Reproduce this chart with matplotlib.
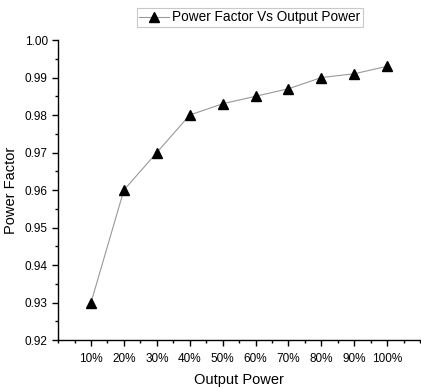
import matplotlib
matplotlib.use("Agg")
import matplotlib.pyplot as plt
from matplotlib.ticker import MultipleLocator, FixedLocator

plt.rcParams['font.family'] = ['Liberation Sans', 'DejaVu Sans']
tick_fs, label_fs, leg_fs = 8.5, 10.5, 9.8

categories = ['10%', '20%', '30%', '40%', '50%', '60%', '70%', '80%', '90%', '100%']
power_factor = [0.930, 0.960, 0.970, 0.980, 0.983, 0.985, 0.987, 0.990, 0.991, 0.993]
y_ticks = [0.92, 0.93, 0.94, 0.95, 0.96, 0.97, 0.98, 0.99, 1.00]

fig = plt.figure(figsize=(4.21, 3.87), dpi=100)
ax = fig.add_axes([0.138, 0.1214, 0.860, 0.7752])

x = list(range(1, len(categories) + 1))
ax.plot(x, power_factor, color='#999999', lw=0.8, marker='^', ms=6.5,
        mfc='black', mec='black', label='Power Factor Vs Output Power')

ax.set_xlim(0, 11)
ax.set_ylim(0.92, 1.00)
ax.set_xticks(x)
ax.set_xticklabels(categories)
ax.xaxis.set_minor_locator(FixedLocator([i * 0.5 for i in range(0, 23)]))
ax.set_yticks(y_ticks)
ax.set_yticklabels([f'{v:.2f}' for v in y_ticks])
ax.yaxis.set_minor_locator(MultipleLocator(0.005))

for s in ['top', 'right']:
    ax.spines[s].set_visible(False)
for s in ['left', 'bottom']:
    ax.spines[s].set_linewidth(1.0)

ax.tick_params(axis='both', which='major', direction='out', length=4, width=1, labelsize=tick_fs)
ax.tick_params(axis='both', which='minor', direction='out', length=2.5, width=1)
ax.tick_params(axis='x', which='major', pad=5)

ax.set_xlabel('Output Power', fontsize=label_fs, labelpad=6)
ax.set_ylabel('Power Factor', fontsize=label_fs, labelpad=5)

leg = fig.legend(loc='center', bbox_to_anchor=(0.593, 0.955), fontsize=leg_fs,
                 frameon=True, fancybox=False, handlelength=2.2, borderpad=0.2,
                 handletextpad=0.2, borderaxespad=0)
leg.get_frame().set_edgecolor('#bbbbbb')
leg.get_frame().set_linewidth(0.8)

fig.savefig('out.png', dpi=100)
